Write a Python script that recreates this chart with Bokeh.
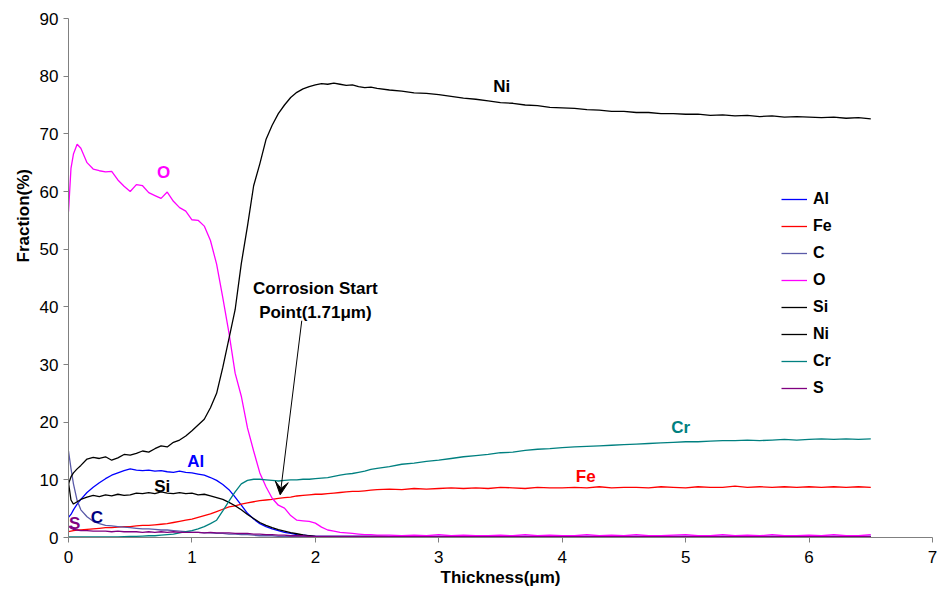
from bokeh.plotting import figure
from bokeh.models import Range1d, FixedTicker, Label, Arrow, VeeHead, Legend, LegendItem, Title
from bokeh.embed import file_html
from bokeh.resources import INLINE

# thickness sample positions (um)
x = [0, 0.02, 0.04, 0.07, 0.1,
     0.15, 0.2, 0.25, 0.3, 0.35, 0.4, 0.45, 0.5, 0.55, 0.6, 0.65, 0.7, 0.75, 0.8, 0.85, 0.9, 0.95,
     1.0, 1.05, 1.1, 1.15, 1.2, 1.25, 1.3, 1.35, 1.4, 1.45, 1.5, 1.55, 1.6, 1.65, 1.7, 1.75, 1.8, 1.85,
     1.9, 1.95, 2.0, 2.05, 2.1, 2.15, 2.2, 2.25, 2.3, 2.35, 2.4, 2.45, 2.5,
     2.6, 2.7, 2.8, 2.9, 3.0, 3.1, 3.2, 3.3, 3.4, 3.5, 3.6, 3.7, 3.8, 3.9, 4.0, 4.1, 4.2, 4.3, 4.4, 4.5,
     4.6, 4.7, 4.8, 4.9, 5.0, 5.1, 5.2, 5.3, 5.4, 5.5, 5.6, 5.7, 5.8, 5.9, 6.0, 6.1, 6.2, 6.3, 6.4, 6.5]

al = [3.5, 4.0, 4.8, 5.8, 6.6,
      7.8, 8.7, 9.5, 10.2, 10.8, 11.2, 11.6, 11.9, 11.7, 11.6, 11.7, 11.5, 11.6, 11.4, 11.3, 11.5, 11.3,
      11.2, 11.0, 10.8, 10.4, 9.9, 9.2, 8.3, 7.0, 5.6, 4.2, 3.2, 2.4, 1.9, 1.5, 1.2, 0.9, 0.7, 0.5,
      0.4, 0.3, 0.2, 0.2, 0.2, 0.2, 0.2, 0.2, 0.2, 0.2, 0.2, 0.2, 0.2,
      0.2, 0.2, 0.2, 0.2, 0.2, 0.2, 0.2, 0.2, 0.2, 0.2, 0.2, 0.2, 0.2, 0.2, 0.2, 0.2, 0.2, 0.2, 0.2, 0.2,
      0.2, 0.2, 0.2, 0.2, 0.2, 0.2, 0.2, 0.2, 0.2, 0.2, 0.2, 0.2, 0.2, 0.2, 0.2, 0.2, 0.2, 0.2, 0.2, 0.2]

fe = [1.0, 1.1, 1.2, 1.3, 1.3,
      1.4, 1.5, 1.6, 1.7, 1.7, 1.8, 1.9, 1.9, 2.0, 2.1, 2.1, 2.2, 2.3, 2.4, 2.6, 2.8, 3.0,
      3.2, 3.5, 3.8, 4.1, 4.5, 4.9, 5.3, 5.5, 5.8, 6.0, 6.2, 6.4, 6.5, 6.6, 6.8, 6.9, 7.0, 7.2,
      7.3, 7.4, 7.5, 7.5, 7.6, 7.7, 7.8, 7.9, 8.0, 8.0, 8.1, 8.2, 8.3,
      8.4, 8.3, 8.5, 8.4, 8.5, 8.6, 8.5, 8.6, 8.5, 8.7, 8.6, 8.5, 8.7, 8.6, 8.6, 8.7, 8.6, 8.8, 8.6, 8.7,
      8.7, 8.6, 8.8, 8.7, 8.6, 8.8, 8.7, 8.7, 8.9, 8.7, 8.8, 8.7, 8.8, 8.7, 8.8, 8.7, 8.8, 8.7, 8.8, 8.7]

c = [15.0, 12.0, 9.3, 6.4, 4.8,
     3.6, 2.8, 2.4, 2.1, 2.0, 1.9, 1.8, 1.7, 1.6, 1.5, 1.5, 1.4, 1.3, 1.3, 1.2, 1.1, 1.0,
     0.9, 0.9, 0.8, 0.8, 0.7, 0.7, 0.6, 0.6, 0.5, 0.5, 0.4, 0.3, 0.3, 0.3, 0.2, 0.2, 0.2, 0.2,
     0.2, 0.2, 0.2, 0.2, 0.2, 0.2, 0.2, 0.2, 0.2, 0.2, 0.2, 0.2, 0.2,
     0.2, 0.2, 0.2, 0.2, 0.2, 0.2, 0.2, 0.2, 0.2, 0.2, 0.2, 0.2, 0.2, 0.2, 0.2, 0.2, 0.2, 0.2, 0.2, 0.2,
     0.2, 0.2, 0.2, 0.2, 0.2, 0.2, 0.2, 0.2, 0.2, 0.2, 0.2, 0.2, 0.2, 0.2, 0.2, 0.2, 0.2, 0.2, 0.2, 0.2]

o = [56.5, 64.0, 66.5, 68.2, 67.5,
     65.0, 63.9, 63.6, 63.4, 63.5, 62.0, 60.9, 60.0, 61.2, 61.0, 59.8, 59.3, 58.8, 59.9, 58.3, 57.2, 56.6,
     55.1, 55.0, 54.0, 51.5, 47.4, 41.6, 35.5, 28.5, 24.5, 19.0, 15.0, 11.2, 8.8, 6.8, 5.6, 5.1, 3.8, 3.0,
     2.9, 2.8, 2.5, 1.8, 1.3, 1.1, 0.9, 0.8, 0.7, 0.6, 0.5, 0.5, 0.4,
     0.4, 0.3, 0.4, 0.3, 0.5, 0.3, 0.4, 0.3, 0.3, 0.4, 0.3, 0.5, 0.3, 0.4, 0.3, 0.3, 0.5, 0.3, 0.4, 0.3,
     0.5, 0.3, 0.3, 0.4, 0.5, 0.3, 0.3, 0.5, 0.3, 0.4, 0.3, 0.5, 0.3, 0.3, 0.4, 0.3, 0.5, 0.3, 0.3, 0.5]

si = [9.5, 6.5, 5.8, 6.2, 6.6,
      7.0, 7.3, 7.1, 7.4, 7.2, 7.5, 7.3, 7.4, 7.7, 7.6, 7.8, 7.6, 7.9, 7.7, 7.6, 7.8, 7.6,
      7.7, 7.4, 7.5, 7.2, 6.9, 6.6, 6.1, 5.5, 4.8, 4.0, 3.3, 2.6, 2.1, 1.7, 1.35, 1.1, 0.85, 0.65,
      0.45, 0.3, 0.2, 0.15, 0.15, 0.15, 0.15, 0.15, 0.15, 0.15, 0.15, 0.15, 0.15,
      0.1, 0.1, 0.1, 0.1, 0.1, 0.1, 0.1, 0.1, 0.1, 0.1, 0.1, 0.1, 0.1, 0.1, 0.1, 0.1, 0.1, 0.1, 0.1, 0.1,
      0.1, 0.1, 0.1, 0.1, 0.1, 0.1, 0.1, 0.1, 0.1, 0.1, 0.1, 0.1, 0.1, 0.1, 0.1, 0.1, 0.1, 0.1, 0.1, 0.1]

ni = [9.3, 10.5, 11.2, 11.9, 12.5,
      13.6, 13.9, 13.7, 14.0, 13.4, 13.8, 14.4, 14.3, 14.6, 15.0, 14.8, 15.4, 15.9, 15.7, 16.5, 16.9, 17.6,
      18.5, 19.5, 20.5, 22.5, 25.0, 29.5, 34.5, 39.5, 47.5, 54.0, 61.0, 64.8, 69.0, 71.5, 73.5, 75.0, 76.3, 77.2,
      77.8, 78.2, 78.5, 78.7, 78.6, 78.8, 78.6, 78.4, 78.5, 78.2, 78.0, 78.1, 77.9,
      77.6, 77.4, 77.1, 77.0, 76.8, 76.5, 76.2, 76.0, 75.7, 75.4, 75.3, 75.0, 74.9, 74.6, 74.5, 74.4, 74.2, 74.1, 73.9, 73.9,
      73.7, 73.7, 73.5, 73.5, 73.4, 73.4, 73.2, 73.3, 73.1, 73.2, 73.0, 73.1, 72.9, 73.0, 72.9, 72.8, 72.9, 72.7, 72.8, 72.6]

cr = [0.1, 0.1, 0.1, 0.1, 0.1,
      0.1, 0.1, 0.1, 0.1, 0.1, 0.1, 0.15, 0.2, 0.2, 0.25, 0.3, 0.3, 0.4, 0.5, 0.6, 0.8, 1.0,
      1.2, 1.5, 1.9, 2.4, 3.0, 4.6, 6.3, 7.9, 9.3, 9.9, 10.1, 10.1, 10.0, 9.9, 9.8, 9.9, 10.0, 10.0,
      10.1, 10.1, 10.2, 10.3, 10.4, 10.6, 10.8, 11.0, 11.1, 11.3, 11.5, 11.8, 12.0,
      12.3, 12.7, 12.9, 13.2, 13.4, 13.7, 14.0, 14.2, 14.4, 14.7, 14.8, 15.1, 15.3, 15.4, 15.6, 15.7, 15.8, 15.9, 16.0, 16.1,
      16.2, 16.3, 16.4, 16.5, 16.6, 16.6, 16.7, 16.8, 16.8, 16.9, 16.8, 16.9, 17.0, 16.9, 17.0, 17.1, 17.0, 17.1, 17.0, 17.1]

s = [2.0, 1.6, 1.4, 1.3, 1.2,
     1.2, 1.1, 1.1, 1.1, 1.0, 1.1, 1.0, 1.0, 1.0, 0.9, 1.0, 0.9, 1.0, 0.9, 1.0, 0.9, 0.9,
     0.9, 0.9, 0.8, 0.9, 0.8, 0.8, 0.8, 0.7, 0.7, 0.7, 0.6, 0.6, 0.5, 0.5, 0.4, 0.4, 0.3, 0.3,
     0.3, 0.2, 0.2, 0.2, 0.2, 0.2, 0.2, 0.2, 0.2, 0.2, 0.2, 0.2, 0.2,
     0.15, 0.15, 0.15, 0.15, 0.15, 0.15, 0.15, 0.15, 0.15, 0.15, 0.15, 0.15, 0.15, 0.15, 0.15, 0.15, 0.15, 0.15, 0.15, 0.15,
     0.15, 0.15, 0.15, 0.15, 0.15, 0.15, 0.15, 0.15, 0.15, 0.15, 0.15, 0.15, 0.15, 0.15, 0.15, 0.15, 0.15, 0.15, 0.15, 0.15]

names = ["Al", "Fe", "C", "O", "Si", "Ni", "Cr", "S"]
series = [al, fe, c, o, si, ni, cr, s]
colors = ["#0000FF", "#FF0000", "#5A5AA8", "#FF00FF", "#000000", "#000000", "#008080", "#800080"]

# curve labels: text, x, y, color
lab_text = ["Ni", "O", "Al", "Si", "C", "S", "Fe", "Cr"]
lab_x = [3.51, 0.77, 1.03, 0.76, 0.23, 0.05, 4.19, 4.96]
lab_y = [78.2, 63.3, 13.1, 8.8, 3.4, 2.4, 10.5, 19.0]
lab_col = ["#000000", "#FF00FF", "#0000FF", "#000000", "#000080", "#800080", "#FF0000", "#008080"]

FONT = "Liberation Sans"

p = figure(width=940, height=594, output_backend="svg", toolbar_location=None,
           x_range=Range1d(0, 7), y_range=Range1d(0, 90),
           min_border_left=68, min_border_right=8, min_border_top=18, min_border_bottom=57)
p.outline_line_color = None
p.xgrid.visible = False
p.ygrid.visible = False
p.background_fill_color = "white"

for ax in (p.xaxis[0], p.yaxis[0]):
    ax.axis_line_color = "#808080"
    ax.major_tick_line_color = "#808080"
    ax.major_tick_out = 5
    ax.major_tick_in = 0
    ax.minor_tick_line_color = None
    ax.major_label_text_font = FONT
    ax.major_label_text_font_size = "17px"
    ax.major_label_text_color = "#000000"
p.xaxis.ticker = FixedTicker(ticks=[0, 1, 2, 3, 4, 5, 6, 7])
p.yaxis.ticker = FixedTicker(ticks=[0, 10, 20, 30, 40, 50, 60, 70, 80, 90])
p.xaxis.major_label_standoff = 8
p.yaxis.major_label_standoff = 5
p.xaxis.axis_label = "Thickness(\u03bcm)"
p.xaxis.axis_label_text_font = FONT
p.xaxis.axis_label_text_font_style = "bold"
p.xaxis.axis_label_text_font_size = "17px"
p.xaxis.axis_label_text_color = "#000000"
p.xaxis.axis_label_standoff = 2

p.add_layout(Title(text="Fraction(%)", align="left", offset=275, text_font=FONT,
                   text_font_style="bold", text_font_size="17px", text_color="#000000",
                   standoff=8), "left")

renderers = []
for nm, ys, col in zip(names, series, colors):
    r = p.line(x, ys, line_color=col, line_width=1.3)
    renderers.append((nm, r))

legend = Legend(items=[LegendItem(label=nm, renderers=[r]) for nm, r in renderers],
                location=(713, 139), border_line_color=None, background_fill_alpha=0,
                padding=0, margin=0, spacing=7, glyph_width=26, glyph_height=20,
                label_height=20, label_standoff=6, label_text_color="#000000",
                label_text_font=FONT, label_text_font_style="bold", label_text_font_size="16px")
p.add_layout(legend)

for t, lx, ly, lc in zip(lab_text, lab_x, lab_y, lab_col):
    p.add_layout(Label(x=lx, y=ly, text=t, text_color=lc, text_font=FONT, text_font_style="bold",
                       text_font_size="17px", text_align="center", text_baseline="middle"))

p.add_layout(Label(x=2.0, y=43.1, text="Corrosion Start", text_font=FONT, text_font_style="bold",
                   text_color="#000000", text_font_size="17px", text_align="center", text_baseline="middle"))
p.add_layout(Label(x=2.0, y=39.0, text="Point(1.71\u03bcm)", text_font=FONT, text_font_style="bold",
                   text_color="#000000", text_font_size="17px", text_align="center", text_baseline="middle"))
p.add_layout(Arrow(end=VeeHead(size=13, fill_color="black", line_color="black"),
                   x_start=1.89, y_start=37.6, x_end=1.715, y_end=7.4,
                   line_color="black", line_width=1))

open("out.html", "w").write(file_html(p, INLINE))
